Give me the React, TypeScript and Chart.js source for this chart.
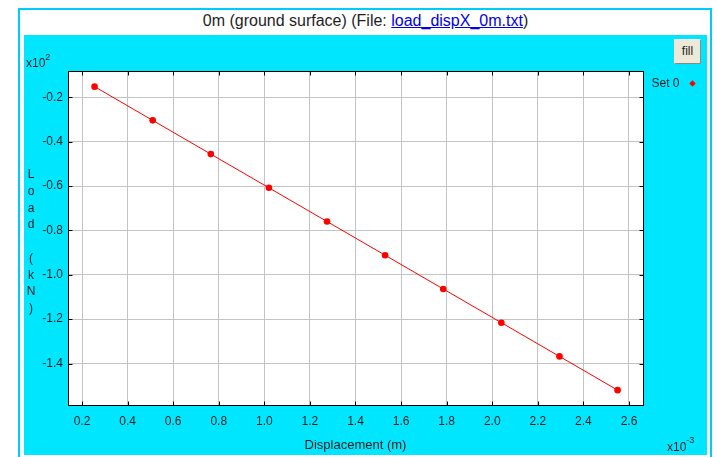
import React, { useEffect, useRef } from "react";
import { Chart, registerables } from "chart.js";

Chart.register(...registerables);

// ---- data ----
const SERIES_LABEL = "Set 0";
// Displacement, x10^-3 m
const DISPLACEMENT = [0.255, 0.51, 0.765, 1.02, 1.275, 1.53, 1.785, 2.04, 2.295, 2.55];
// Load, x10^2 kN
const LOAD = [-0.152, -0.304, -0.456, -0.608, -0.76, -0.912, -1.064, -1.216, -1.368, -1.52];
const X_TICKS = [0.2, 0.4, 0.6, 0.8, 1.0, 1.2, 1.4, 1.6, 1.8, 2.0, 2.2, 2.4, 2.6];
const Y_TICKS = [-0.2, -0.4, -0.6, -0.8, -1.0, -1.2, -1.4];
const X_RANGE = [0.1385, 2.6615];
const Y_RANGE = [-1.587, -0.0815];

const TITLE_PREFIX = "0m (ground surface) (File: ";
const TITLE_LINK = "load_dispX_0m.txt";
const TITLE_SUFFIX = ")";
const X_TITLE = "Displacement (m)";
const Y_TITLE = "Load (kN)";
const X_EXP = "-3";
const Y_EXP = "2";

const FONT = "'Liberation Sans', Arial, sans-serif";
const TEXT = "#1e1e1e";
const PANEL = "#00e6ff";
const RED = "#ff0000";

const framePlugin = {
  id: "frame",
  beforeDraw(chart: any) {
    const { ctx, chartArea: a } = chart;
    ctx.save();
    ctx.fillStyle = "#ffffff";
    ctx.fillRect(a.left, a.top, a.right - a.left, a.bottom - a.top);
    ctx.restore();
  },
  afterDraw(chart: any) {
    const { ctx, chartArea: a, scales } = chart;
    ctx.save();
    ctx.strokeStyle = "#000000";
    ctx.lineWidth = 1;
    ctx.strokeRect(a.left + 0.5, a.top + 0.5, a.right - a.left, a.bottom - a.top);
    // inward tick marks
    const tl = 4;
    ctx.beginPath();
    scales.x.ticks.forEach((t: any) => {
      const px = Math.round(scales.x.getPixelForValue(t.value)) + 0.5;
      ctx.moveTo(px, a.bottom + 0.5);
      ctx.lineTo(px, a.bottom + 0.5 - tl);
      ctx.moveTo(px, a.top + 0.5);
      ctx.lineTo(px, a.top + 0.5 + tl);
    });
    scales.y.ticks.forEach((t: any) => {
      const py = Math.round(scales.y.getPixelForValue(t.value)) + 0.5;
      ctx.moveTo(a.left + 0.5, py);
      ctx.lineTo(a.left + 0.5 + tl, py);
      ctx.moveTo(a.right + 0.5, py);
      ctx.lineTo(a.right + 0.5 - tl, py);
    });
    ctx.stroke();

    // texts
    ctx.fillStyle = TEXT;
    ctx.textBaseline = "middle";
    ctx.textAlign = "center";
    ctx.font = `13px ${FONT}`;
    ctx.fillText(X_TITLE, (a.left + a.right) / 2, 410);

    // y title, stacked letters
    ctx.font = `12px ${FONT}`;
    const letters = Y_TITLE.split("");
    letters.forEach((ch, i) => {
      if (ch !== " ") ctx.fillText(ch, 7, 140 + i * 16.7);
    });

    // exponents
    ctx.textAlign = "left";
    ctx.textBaseline = "alphabetic";
    ctx.font = `12px ${FONT}`;
    ctx.fillText("x10", 2, 32);
    let w = ctx.measureText("x10").width;
    ctx.font = `9px ${FONT}`;
    ctx.fillText(Y_EXP, 2 + w, 25);

    ctx.font = `12px ${FONT}`;
    ctx.fillText("x10", 643, 416);
    w = ctx.measureText("x10").width;
    ctx.font = `9px ${FONT}`;
    ctx.fillText(X_EXP, 643 + w, 408);

    // legend
    const ds = chart.data.datasets[0];
    ctx.font = `12px ${FONT}`;
    ctx.textBaseline = "middle";
    ctx.fillText(ds.label, 627.5, 48.5);
    ctx.fillStyle = ds.pointBackgroundColor;
    ctx.beginPath();
    const cx = 668.5, cy = 48.5, r = 3.2;
    ctx.moveTo(cx, cy - r);
    ctx.lineTo(cx + r, cy);
    ctx.lineTo(cx, cy + r);
    ctx.lineTo(cx - r, cy);
    ctx.closePath();
    ctx.fill();
    ctx.restore();
  },
};

export default function App() {
  const ref = useRef<HTMLCanvasElement | null>(null);

  useEffect(() => {
    if (!ref.current) return;
    const chart = new Chart(ref.current, {
      type: "scatter",
      data: {
        datasets: [
          {
            label: SERIES_LABEL,
            data: DISPLACEMENT.map((x, i) => ({ x, y: LOAD[i] })),
            showLine: true,
            borderColor: RED,
            borderWidth: 1,
            pointRadius: 3.3,
            pointBorderWidth: 0,
            pointBackgroundColor: RED,
            pointStyle: "circle",
          },
        ],
      },
      options: {
        animation: false,
        responsive: false,
        events: [],
        layout: { padding: { left: 0, top: 36, right: 64, bottom: 0 } },
        plugins: { legend: { display: false }, tooltip: { enabled: false } },
        scales: {
          x: {
            type: "linear",
            min: X_RANGE[0],
            max: X_RANGE[1],
            afterBuildTicks: (s: any) => {
              s.ticks = X_TICKS.map((value) => ({ value }));
            },
            afterFit: (s: any) => {
              s.height = 50;
            },
            grid: { color: "#c4c4c4", drawTicks: false, tickLength: 0 },
            border: { display: false },
            ticks: {
              padding: 9,
              color: TEXT,
              font: { family: FONT, size: 12 },
              maxRotation: 0,
              autoSkip: false,
              callback: (v: any) => Number(v).toFixed(1),
            },
          },
          y: {
            type: "linear",
            min: Y_RANGE[0],
            max: Y_RANGE[1],
            afterBuildTicks: (s: any) => {
              s.ticks = Y_TICKS.map((value) => ({ value }));
            },
            afterFit: (s: any) => {
              s.width = 44;
            },
            grid: { color: "#c4c4c4", drawTicks: false, tickLength: 0 },
            border: { display: false },
            ticks: {
              padding: 5,
              color: TEXT,
              font: { family: FONT, size: 12 },
              autoSkip: false,
              callback: (v: any) => Number(v).toFixed(1),
            },
          },
        },
      },
      plugins: [framePlugin],
    } as any);
    return () => chart.destroy();
  }, []);

  return (
    <div
      style={{
        position: "fixed",
        left: 0,
        top: 0,
        width: 717,
        height: 457,
        background: "#ffffff",
        overflow: "hidden",
        fontFamily: FONT,
      }}
    >
      <div
        style={{
          position: "absolute",
          left: 18,
          top: 8,
          width: 694,
          height: 470,
          boxSizing: "border-box",
          border: "2px solid #00cdf5",
        }}
      />
      <div
        style={{
          position: "absolute",
          left: 24,
          top: 8,
          width: 683,
          height: 25,
          lineHeight: "25px",
          textAlign: "center",
          fontSize: 16,
          color: TEXT,
          whiteSpace: "nowrap",
        }}
      >
        {TITLE_PREFIX}
        <span style={{ color: "#0000ee", textDecoration: "underline" }}>{TITLE_LINK}</span>
        {TITLE_SUFFIX}
      </div>
      <div
        style={{
          position: "absolute",
          left: 24,
          top: 35,
          width: 683,
          height: 420,
          background: PANEL,
        }}
      />
      <canvas
        ref={ref}
        width={683}
        height={420}
        style={{ position: "absolute", left: 24, top: 35, width: 683, height: 420 }}
      />
      <div
        style={{
          position: "absolute",
          left: 674,
          top: 39,
          width: 27,
          height: 25,
          boxSizing: "border-box",
          background: "#ece9d8",
          borderTop: "1px solid #ffffff",
          borderLeft: "1px solid #ffffff",
          borderRight: "1px solid #8d8a7f",
          borderBottom: "1px solid #8d8a7f",
          fontSize: 12,
          lineHeight: "23px",
          textAlign: "center",
          color: TEXT,
        }}
      >
        fill
      </div>
    </div>
  );
}
